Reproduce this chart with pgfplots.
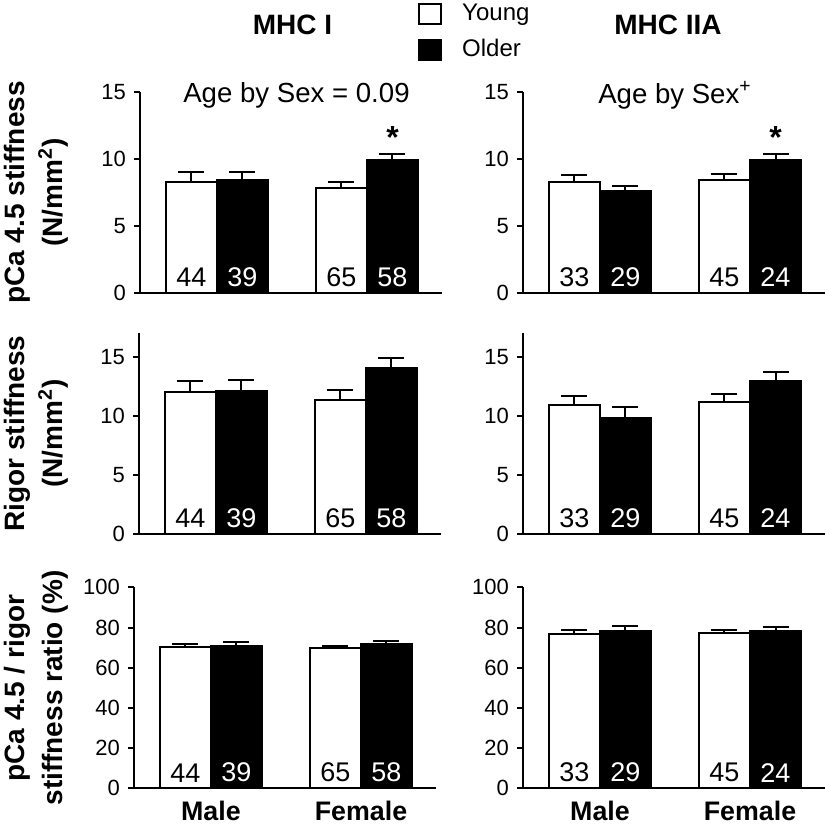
\documentclass[border=0pt]{standalone}
\usepackage{pgfplots}
\pgfplotsset{compat=1.18}
\usepackage{fontspec}
\setmainfont{Liberation Sans}
\pgfplotsset{
  panel/.style={
    scale only axis, width=151pt, height=100.5pt,
    axis x line=bottom, axis y line=left,
    axis line style={line width=1pt,-},
    xmin=-0.513, xmax=1.5, ymin=0,
    xtick={0,1}, xticklabels={}, major x tick style={draw=none},
    tick align=outside, major tick length=3pt,
    ytick style={line width=1pt,black},
    /pgf/number format/assume math mode=true,
    yticklabel style={font=\fontsize{11}{11}\selectfont, xshift=-0.5pt},
    xticklabel style={font=\fontsize{13.4}{13.4}\selectfont\bfseries},
    clip=false,
  },
  young/.style={ybar, bar width=0.34, bar shift=0pt, draw=black, fill=white, line width=1pt,
    error bars/.cd, y dir=plus, y explicit,
    error bar style={line width=1pt,black}, error mark options={line width=1pt,black,mark size=6.5pt,rotate=90}},
  older/.style={ybar, bar width=0.34, bar shift=0pt, draw=black, fill=black, line width=1pt,
    error bars/.cd, y dir=plus, y explicit,
    error bar style={line width=1pt,black}, error mark options={line width=1pt,black,mark size=6.5pt,rotate=90}},
}
\tikzset{nlab/.style={font=\fontsize{13.5}{13.5}\selectfont, anchor=south, inner sep=0pt, yshift=3pt}}
\newcommand{\Ns}[4]{%
  \node[nlab] at (axis cs:-0.17,0) {#1};
  \node[nlab,text=white] at (axis cs:0.17,0) {#2};
  \node[nlab] at (axis cs:0.83,0) {#3};
  \node[nlab,text=white] at (axis cs:1.17,0) {#4};}
\begin{document}
\begin{tikzpicture}
\useasboundingbox (0,0) rectangle (414.5pt,-413pt);
% Row 1 left
\begin{axis}[panel, at={(70pt,-146.5pt)}, anchor=south west, ymax=15, ytick={0,5,10,15},
  legend style={draw=none, fill=none, at={(0.92,1.46)}, anchor=north west,
    font=\fontsize{12}{12}\selectfont, row sep=4pt, inner sep=0pt},
  legend cell align=left,
  legend image code/.code={\draw[line width=1pt,draw=black,#1] (0pt,-5pt) rectangle (11pt,5pt); \path (19pt,0pt);}]
\addplot[young] coordinates {(-0.17,8.3) +- (0,0.7) (0.83,7.8) +- (0,0.5)};
\addplot[older] coordinates {(0.17,8.4) +- (0,0.65) (1.17,9.95) +- (0,0.45)};
\legend{Young,Older}
\Ns{44}{39}{65}{58}
\node[font=\fontsize{13.8}{13.8}\selectfont] at (axis cs:0.53,14.75) {Age by Sex = 0.09};
\node[font=\fontsize{16}{16}\selectfont\bfseries] at (axis cs:1.17,11.6) {*};
\end{axis}
% Row 1 right
\begin{axis}[panel, at={(261.5pt,-146.5pt)}, anchor=south west, ymax=15, ytick={0,5,10,15}]
\addplot[young] coordinates {(-0.17,8.3) +- (0,0.5) (0.83,8.45) +- (0,0.4)};
\addplot[older] coordinates {(0.17,7.6) +- (0,0.4) (1.17,9.9) +- (0,0.45)};
\Ns{33}{29}{45}{24}
\node[font=\fontsize{13.8}{13.8}\selectfont] at (axis cs:0.5,14.75) {Age by Sex\textsuperscript{+}};
\node[font=\fontsize{16}{16}\selectfont\bfseries] at (axis cs:1.17,11.6) {*};
\end{axis}
% Row 2 left
\begin{axis}[panel, at={(69.5pt,-267pt)}, anchor=south west, ymax=17, ytick={0,5,10,15}]
\addplot[young] coordinates {(-0.17,12.0) +- (0,0.95) (0.83,11.3) +- (0,0.85)};
\addplot[older] coordinates {(0.17,12.1) +- (0,0.95) (1.17,14.05) +- (0,0.8)};
\Ns{44}{39}{65}{58}
\end{axis}
% Row 2 right
\begin{axis}[panel, at={(261.5pt,-267pt)}, anchor=south west, ymax=17, ytick={0,5,10,15}]
\addplot[young] coordinates {(-0.17,10.9) +- (0,0.75) (0.83,11.15) +- (0,0.7)};
\addplot[older] coordinates {(0.17,9.85) +- (0,0.9) (1.17,12.9) +- (0,0.8)};
\Ns{33}{29}{45}{24}
\end{axis}
% Row 3 left
\begin{axis}[panel, at={(67pt,-394.2pt)}, anchor=south west, ymax=100, ytick={0,20,40,60,80,100},
  xticklabels={Male,Female}]
\addplot[young] coordinates {(-0.17,70.3) +- (0,1.7) (0.83,69.7) +- (0,1.2)};
\addplot[older] coordinates {(0.17,71.1) +- (0,1.5) (1.17,72.0) +- (0,1.2)};
\Ns{44}{39}{65}{58}
\end{axis}
% Row 3 right
\begin{axis}[panel, at={(261.5pt,-394.2pt)}, anchor=south west, ymax=100, ytick={0,20,40,60,80,100},
  xticklabels={Male,Female}]
\addplot[young] coordinates {(-0.17,76.9) +- (0,1.8) (0.83,77.2) +- (0,1.5)};
\addplot[older] coordinates {(0.17,78.2) +- (0,2.4) (1.17,78.2) +- (0,1.9)};
\Ns{33}{29}{45}{24}
\end{axis}
% Titles
\node[font=\fontsize{14}{14}\selectfont\bfseries] at (146.25pt,-12.25pt) {MHC I};
\node[font=\fontsize{14}{14}\selectfont\bfseries] at (334pt,-12.25pt) {MHC IIA};
% Y labels
\node[rotate=90, align=center, font=\fontsize{14}{19}\selectfont\bfseries] at (18pt,-96.25pt) {pCa 4.5 stiffness\\(N/mm\textsuperscript{2})};
\node[rotate=90, align=center, font=\fontsize{14}{19}\selectfont\bfseries] at (18pt,-216.75pt) {Rigor stiffness\\(N/mm\textsuperscript{2})};
\node[rotate=90, align=center, font=\fontsize{14}{19}\selectfont\bfseries] at (18pt,-344pt) {pCa 4.5 / rigor\\stiffness ratio (\%)};
\end{tikzpicture}
\end{document}
